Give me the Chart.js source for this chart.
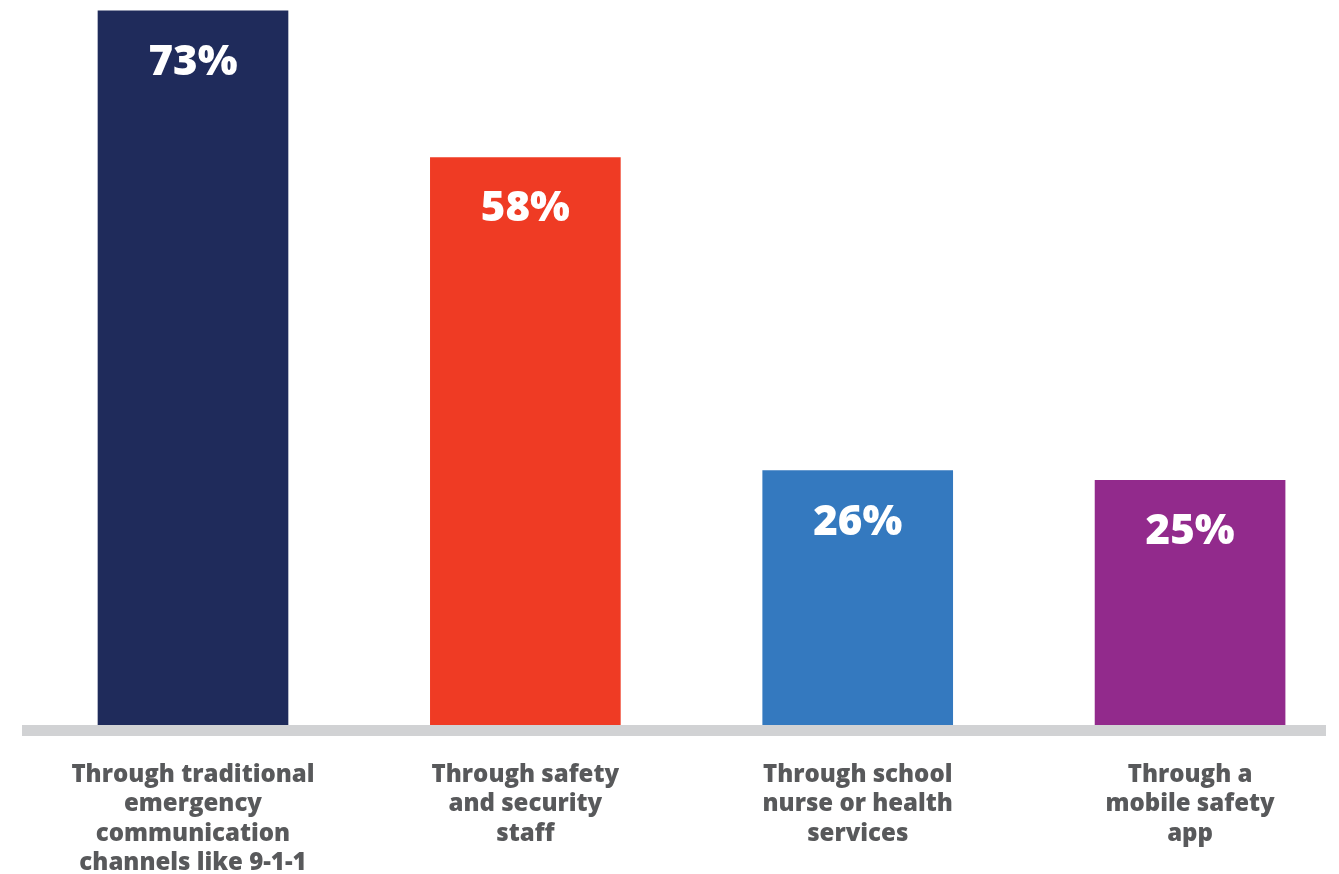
<!DOCTYPE html>
<html>
<head>
<meta charset="utf-8">
<title>Reporting channels</title>
<script src="https://cdn.jsdelivr.net/npm/chart.js@4/dist/chart.umd.min.js"></script>
<style>
  html, body { margin: 0; padding: 0; background: #fff; overflow: hidden; }
  #wrap { position: relative; width: 1339px; height: 874px; }
</style>
</head>
<body>
<div id="wrap"><canvas id="chart"></canvas></div>
<script>
"use strict";

// ── Data ──────────────────────────────────────────────────────────
const CATEGORIES = [
  ["Through traditional", "emergency", "communication", "channels like 9-1-1"],
  ["Through safety", "and security", "staff"],
  ["Through school", "nurse or health", "services"],
  ["Through a", "mobile safety", "app"]
];
const VALUES = [73, 58, 26, 25];
const COLORS = ["#1f2b5b", "#ef3b24", "#3479bf", "#922a8c"];

const LABEL_GREY = "#58595b";
const BASE_GREY  = "#d1d2d4";
const FONT = "'Open Sans', sans-serif";

// ── Plugins ───────────────────────────────────────────────────────
// thick grey floor under the bars
const floorLine = {
  id: "floorLine",
  beforeDatasetsDraw(chart) {
    const { ctx, chartArea } = chart;
    ctx.save();
    ctx.fillStyle = BASE_GREY;
    ctx.fillRect(chartArea.left, chartArea.bottom, chartArea.right - chartArea.left, 11);
    ctx.restore();
  }
};

// percentage printed inside the top of each bar
const barValues = {
  id: "barValues",
  afterDatasetsDraw(chart) {
    const { ctx } = chart;
    const meta = chart.getDatasetMeta(0);
    ctx.save();
    ctx.fillStyle = "#fff";
    ctx.font = "800 42px " + FONT;
    ctx.textAlign = "center";
    ctx.textBaseline = "middle";
    meta.data.forEach((bar, i) => {
      ctx.fillText(VALUES[i] + "%", bar.x, bar.y + 52);
    });
    ctx.restore();
  }
};

// ── Chart ─────────────────────────────────────────────────────────
new Chart(document.getElementById("chart"), {
  type: "bar",
  data: {
    datasets: [{
      data: VALUES.map((v, i) => ({ x: i, y: v })),
      backgroundColor: COLORS,
      borderWidth: 0,
      barThickness: 190
    }]
  },
  options: {
    responsive: true,
    maintainAspectRatio: false,
    animation: false,
    layout: { padding: { left: 22, right: 13, top: 0, bottom: 0 } },
    plugins: { legend: { display: false }, tooltip: { enabled: false } },
    scales: {
      x: {
        type: "linear",
        offset: false,
        min: -0.5145,
        max: 3.409,
        grid: { display: false, drawTicks: false, offset: false },
        border: { display: false },
        afterFit: scale => {
          scale.height = 149;
          // labels sit well inside the bars' slots, no extra side room needed
          scale.paddingLeft = 0;
          scale.paddingRight = 0;
        },
        ticks: {
          stepSize: 1,
          autoSkip: false,
          maxRotation: 0,
          padding: 35,
          color: LABEL_GREY,
          font: { family: FONT, size: 24, weight: "800", lineHeight: 1.23 },
          callback: v => Number.isInteger(v) && CATEGORIES[v] ? CATEGORIES[v] : ""
        }
      },
      y: {
        display: false,
        min: 0,
        max: 74.1
      }
    }
  },
  plugins: [floorLine, barValues]
});
</script>
</body>
</html>
